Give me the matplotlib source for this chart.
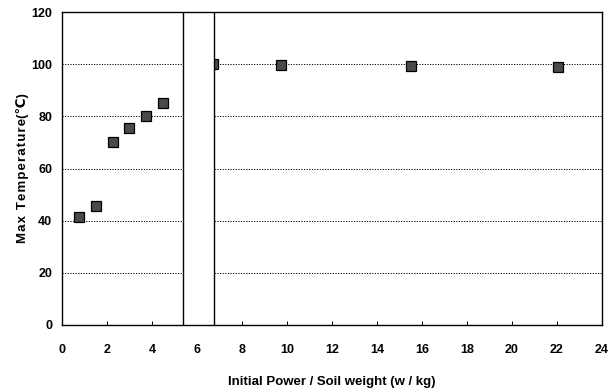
import matplotlib
matplotlib.use("Agg")
import matplotlib.pyplot as plt
from matplotlib.patches import Rectangle

# data
power_per_weight = [0.75, 1.5, 2.25, 3.0, 3.75, 4.5, 6.7, 9.75, 15.5, 22.05]
max_temp = [41.3, 45.8, 70.2, 75.4, 80.0, 85.2, 100.0, 99.8, 99.5, 99.1]

x_ticks = list(range(0, 25, 2))
y_ticks = list(range(0, 121, 20))
gap_start, gap_end = 5.4, 6.75

plt.rcParams["font.family"] = ["Liberation Sans", "DejaVu Sans"]
plt.rcParams["font.weight"] = "bold"

fig = plt.figure(figsize=(6.14, 3.92), dpi=100)
ax = fig.add_axes([0.101, 0.171, 0.879, 0.798])

ax.set_xlim(0, 24)
ax.set_ylim(0, 120)
ax.set_xticks(x_ticks)
ax.set_yticks(y_ticks)

# dotted horizontal grid
for y in y_ticks[1:-1]:
    ax.axhline(y, color="black", lw=0.7, ls=(0, (1.2, 1.5)), zorder=1)

ax.plot(power_per_weight, max_temp, ls="none", marker="s", markersize=6.5,
        markerfacecolor="#4a4a4a", markeredgecolor="black", markeredgewidth=0.9,
        zorder=3)

# blank break column between the two vertical lines
ax.add_patch(Rectangle((gap_start, 0), gap_end - gap_start, 120,
                       facecolor="white", edgecolor="black", lw=1.0, zorder=4))

for side in ["left", "right", "top", "bottom"]:
    ax.spines[side].set_linewidth(1.0)
    ax.spines[side].set_color("black")

ax.tick_params(axis="x", direction="in", length=3, width=0.7, labelsize=9, pad=14)
ax.tick_params(axis="y", direction="in", length=0, labelsize=9, pad=7)
for lbl in ax.get_xticklabels() + ax.get_yticklabels():
    lbl.set_fontweight("bold")

ax.set_xlabel("Initial Power / Soil weight (w / kg)", fontsize=9.5,
              fontweight="bold", labelpad=14)
# wide letter spacing as in the reference
ylab = "\u200a".join("Max Temperature") + "(℃)"
ax.set_ylabel(ylab, fontsize=9.5, fontweight="bold", labelpad=2)

fig.savefig("out.png", dpi=100)
